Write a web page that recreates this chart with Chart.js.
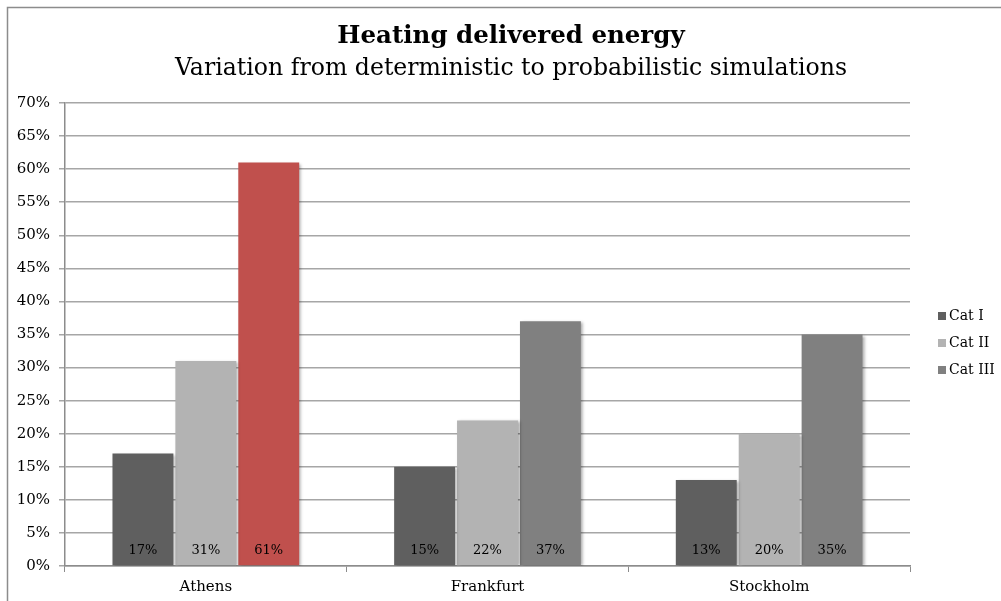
<!DOCTYPE html>
<html>
<head>
<meta charset="utf-8">
<script src="https://cdn.jsdelivr.net/npm/chart.js@4.4.1/dist/chart.umd.min.js"></script>
<style>
html,body{margin:0;padding:0;background:#fff;}
#wrap{position:relative;width:1001px;height:601px;}
</style>
</head>
<body>
<div id="wrap"><canvas id="c" width="1001" height="601"></canvas></div>
<script>
const categories = ['Athens', 'Frankfurt', 'Stockholm'];
const seriesNames = ['Cat I', 'Cat II', 'Cat III'];
const catI = [17, 15, 13];
const catII = [31, 22, 20];
const catIII = [61, 37, 35];
const yTicks = [0,5,10,15,20,25,30,35,40,45,50,55,60,65,70];
const titleText = 'Heating delivered energy';
const subtitleText = 'Variation from deterministic to probabilistic simulations';

const FONT = "'DejaVu Serif', serif";
const colI = '#5f5f5f', colII = '#b3b3b3', colIII = '#808080', colRed = '#c0504d';
const legendColors = [colI, colII, colIII];

const framePlugin = {
  id: 'frame',
  beforeDraw(chart) {
    const ctx = chart.ctx;
    ctx.save();
    ctx.fillStyle = '#fff';
    ctx.fillRect(0,0,chart.width,chart.height);
    ctx.strokeStyle = '#8c8c8c';
    ctx.lineWidth = 1.5;
    ctx.beginPath();
    ctx.moveTo(7.5, chart.height);
    ctx.lineTo(7.5, 7.5);
    ctx.lineTo(chart.width, 7.5);
    ctx.stroke();
    ctx.restore();
  }
};

const titlePlugin = {
  id: 'titles',
  afterDraw(chart) {
    const ctx = chart.ctx;
    ctx.save();
    ctx.fillStyle = '#000';
    ctx.textAlign = 'center';
    ctx.textBaseline = 'middle';
    const cx = 511;
    ctx.font = "bold 24.5px " + FONT;
    ctx.fillText(titleText, cx, 37);
    ctx.font = "23.6px " + FONT;
    ctx.fillText(subtitleText, cx, 69);
    ctx.restore();
  }
};

const shadowPlugin = {
  id: 'barShadow',
  beforeDatasetsDraw(chart) {
    const ctx = chart.ctx;
    ctx.save();
    ctx.shadowColor = 'rgba(0,0,0,0.35)';
    ctx.shadowBlur = 3;
    ctx.shadowOffsetX = 2;
    ctx.shadowOffsetY = 1;
  },
  afterDatasetsDraw(chart) {
    chart.ctx.restore();
  }
};

const labelPlugin = {
  id: 'barLabels',
  afterDatasetsDraw(chart) {
    const ctx = chart.ctx;
    ctx.save();
    ctx.font = "13px " + FONT;
    ctx.fillStyle = '#000';
    ctx.textAlign = 'center';
    ctx.textBaseline = 'middle';
    chart.data.datasets.forEach((ds, di) => {
      const meta = chart.getDatasetMeta(di);
      meta.data.forEach((bar, i) => {
        ctx.fillText(ds.data[i] + '%', bar.x, bar.base - 15);
      });
    });
    ctx.restore();
  }
};

const legendPlugin = {
  id: 'sideLegend',
  afterDraw(chart) {
    const ctx = chart.ctx;
    ctx.save();
    ctx.font = "14px " + FONT;
    ctx.textAlign = 'left';
    ctx.textBaseline = 'middle';
    const x0 = chart.chartArea.right + 28;
    const y0 = 316, step = 27;
    chart.data.datasets.forEach((ds, i) => {
      const y = y0 + i * step;
      ctx.fillStyle = legendColors[i];
      ctx.fillRect(x0, y - 4, 8, 8);
      ctx.fillStyle = '#000';
      ctx.fillText(ds.label, x0 + 11, y);
    });
    ctx.restore();
  }
};

new Chart(document.getElementById('c'), {
  type: 'bar',
  data: {
    labels: categories,
    datasets: [
      { label: seriesNames[0], data: catI, backgroundColor: colI },
      { label: seriesNames[1], data: catII, backgroundColor: colII },
      { label: seriesNames[2], data: catIII, backgroundColor: [colRed, colIII, colIII] }
    ]
  },
  options: {
    responsive: false,
    animation: false,
    devicePixelRatio: 1,
    layout: { padding: { left: 7, right: 91, top: 103, bottom: 0 } },
    datasets: { bar: { categoryPercentage: 0.67, barPercentage: 0.968 } },
    plugins: {
      title: { display: false },
      legend: { display: false },
      tooltip: { enabled: false }
    },
    scales: {
      x: {
        grid: { display: true, drawOnChartArea: false, drawTicks: true, tickLength: 6, color: '#8c8c8c', offset: true },
        border: { display: true, color: '#8c8c8c', width: 1.5 },
        ticks: { color: '#000', font: { family: FONT, size: 15 }, padding: 6 },
        afterFit(s) { s.height = 35; }
      },
      y: {
        min: 0, max: 70,
        afterBuildTicks(s) { s.ticks = yTicks.map(v => ({ value: v })); },
        grid: { color: '#a6a6a6', lineWidth: 1.5, tickLength: 6 },
        border: { display: true, color: '#8c8c8c', width: 1.5 },
        ticks: { color: '#000', font: { family: FONT, size: 15 }, padding: 9, callback: v => v + '%' },
        afterFit(s) { s.width = 58; }
      }
    }
  },
  plugins: [framePlugin, shadowPlugin, labelPlugin, legendPlugin, titlePlugin]
});
</script>
</body>
</html>
